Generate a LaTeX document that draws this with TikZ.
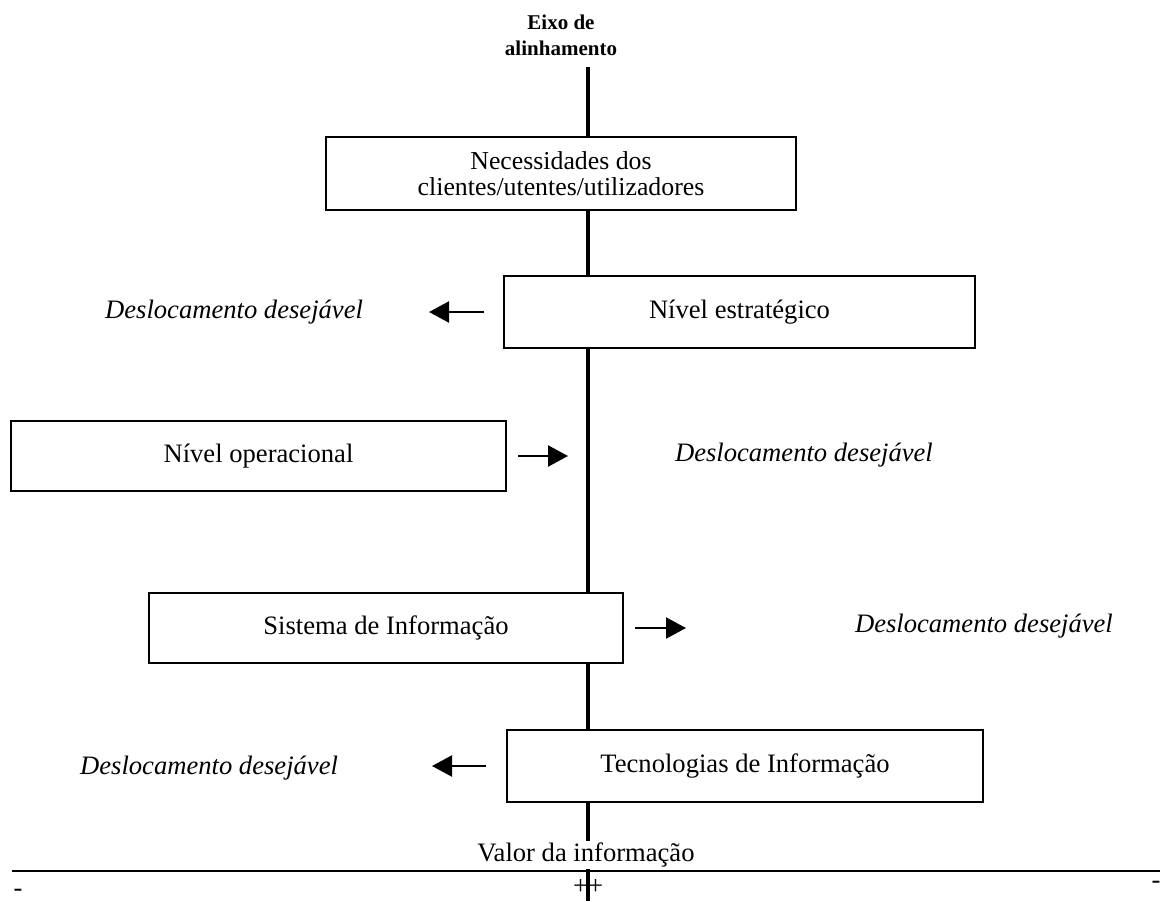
\documentclass[tikz,border=0pt]{standalone}
\usepackage{fontspec}
\setmainfont{Liberation Serif}
\usetikzlibrary{arrows.meta}
\begin{document}
\begin{tikzpicture}[x=0.5pt,y=-0.5pt,
  every node/.style={font=\fontsize{13.3pt}{13pt}\selectfont},
  levelbox/.style={draw,line width=1pt,fill=white,inner sep=0pt,align=center},
  shiftlabel/.style={font=\fontsize{13.3pt}{13pt}\selectfont\itshape},
  shiftarrow/.style={line width=1.1pt,-{Triangle[length=10pt,width=10.5pt]}},
  axis/.style={line width=2pt}]
\useasboundingbox (0,0) rectangle (1161,901);

% alignment axis
\node[font=\fontsize{10.5pt}{13pt}\selectfont\bfseries,align=center] (axlabel) at (561,35) {Eixo de\\alinhamento};
\coordinate (axtop) at (588,67);
\coordinate (axbot) at (588,901);
\draw[axis] (axtop) -- (axbot);

% levels
\node[levelbox,minimum width=235pt,minimum height=36.5pt,
  font=\fontsize{12.9pt}{13pt}\selectfont] (nec) at (561,173.5)
  {Necessidades dos\\clientes/utentes/utilizadores};
\node[levelbox,minimum width=235.5pt,minimum height=36pt] (est) at (739.5,312) {Nível estratégico};
\node[levelbox,minimum width=247.5pt,minimum height=35pt] (ope) at (258.5,456) {Nível operacional};
\node[levelbox,minimum width=237pt,minimum height=35pt] (sis) at (386,628) {Sistema de Informação};
\node[levelbox,minimum width=238pt,minimum height=36pt] (tec) at (745,766) {Tecnologias de Informação};

% desired shifts
\draw[shiftarrow] ([xshift=-9.5pt]est.west) -- ++(-55,0) coordinate (a1);
\node[shiftlabel,anchor=east] (d1) at (370,312) {Deslocamento desejável};
\draw[shiftarrow] ([xshift=5.5pt]ope.east) -- ++(50,0) coordinate (a2);
\node[shiftlabel,anchor=west] (d2) at (668,455) {Deslocamento desejável};
\draw[shiftarrow] ([xshift=5.5pt]sis.east) -- ++(51,0) coordinate (a3);
\node[shiftlabel,anchor=west] (d3) at (848,626) {Deslocamento desejável};
\draw[shiftarrow] ([xshift=-10pt]tec.west) -- ++(-54,0) coordinate (a4);
\node[shiftlabel,anchor=east] (d4) at (345,768) {Deslocamento desejável};

% information value scale
\node[fill=white,inner sep=1pt] (valor) at (586,855) {Valor da informação};
\coordinate (hl) at (12,871);
\coordinate (hr) at (1160,871);
\draw[line width=1pt] (hl) -- (hr);
\node (plus) at (588,887) {++};
\node (minl) at (18,893) {-};
\node (minr) at (1156,885) {-};
\end{tikzpicture}
\end{document}
